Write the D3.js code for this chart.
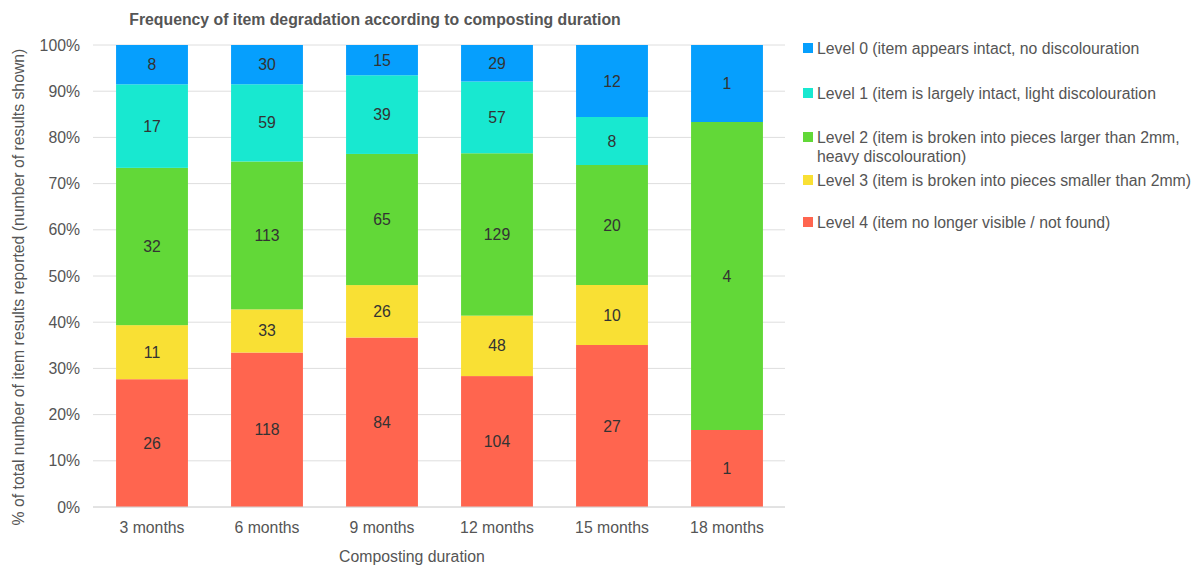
<!DOCTYPE html>
<html>
<head>
<meta charset="utf-8">
<script src="https://cdn.jsdelivr.net/npm/d3@7"></script>
<style>
  body { margin: 0; background: #fff; }
  svg { font-family: "Liberation Sans", Arial, sans-serif; }
</style>
</head>
<body>
<svg id="chart" width="1192" height="567"></svg>
<script>
const categories = ["3 months", "6 months", "9 months", "12 months", "15 months", "18 months"];
const levels = [
  "Level 0 (item appears intact, no discolouration",
  "Level 1 (item is largely intact, light discolouration",
  "Level 2 (item is broken into pieces larger than 2mm,|heavy discolouration)",
  "Level 3 (item is broken into pieces smaller than 2mm)",
  "Level 4 (item no longer visible / not found)"
];
const level0 = [8, 30, 15, 29, 12, 1];
const level1 = [17, 59, 39, 57, 8, 0];
const level2 = [32, 113, 65, 129, 20, 4];
const level3 = [11, 33, 26, 48, 10, 0];
const level4 = [26, 118, 84, 104, 27, 1];
const yTicks = [0, 10, 20, 30, 40, 50, 60, 70, 80, 90, 100];
const colors = ["#069ffd", "#18e8d0", "#62d838", "#f9e034", "#ff654f"];

const series = [level0, level1, level2, level3, level4];
const stackKeys = [4, 3, 2, 1, 0];

const svg = d3.select("#chart");
const margin = { left: 94.5, right: 784.5, top: 45, bottom: 507 };
const FS = 15.8;

const x = d3.scaleBand().domain(categories).range([margin.left, margin.right]).paddingInner(0.375).paddingOuter(0.1875);
const y = d3.scaleLinear().domain([0, 100]).range([margin.bottom, margin.top]);

svg.append("g").selectAll("line").data(yTicks).join("line")
  .attr("x1", 93).attr("x2", 785)
  .attr("y1", d => y(d)).attr("y2", d => y(d))
  .attr("stroke", "#dedede").attr("stroke-width", 1);

svg.append("g").selectAll("text").data(yTicks).join("text")
  .attr("x", 80).attr("y", d => y(d)).attr("dy", "0.35em")
  .attr("text-anchor", "end").attr("font-size", FS).attr("fill", "#555")
  .text(d => d + "%");

const rows = categories.map((c, i) => {
  const total = series.reduce((s, arr) => s + arr[i], 0);
  const o = { cat: c, total };
  series.forEach((arr, k) => { o["L" + k] = arr[i] / total * 100; o["N" + k] = arr[i]; });
  return o;
});
const stack = d3.stack().keys(stackKeys.map(k => "L" + k));
const stacked = stack(rows);

const segs = svg.append("g");
stacked.forEach((layer, li) => {
  const k = stackKeys[li];
  const g = segs.append("g");
  g.selectAll("rect").data(layer).join("rect")
    .attr("x", d => x(d.data.cat))
    .attr("width", x.bandwidth())
    .attr("y", d => y(d[1]))
    .attr("height", d => y(d[0]) - y(d[1]))
    .attr("fill", colors[k]);
  g.selectAll("text").data(layer.filter(d => d.data["N" + k] > 0)).join("text")
    .attr("x", d => x(d.data.cat) + x.bandwidth() / 2)
    .attr("y", d => (y(d[0]) + y(d[1])) / 2)
    .attr("dy", "0.35em")
    .attr("text-anchor", "middle").attr("font-size", FS).attr("fill", "#333")
    .text(d => d.data["N" + k]);
});

svg.append("line").attr("x1", 93).attr("x2", 785).attr("y1", y(0)).attr("y2", y(0))
  .attr("stroke", "#d6d6d6").attr("stroke-width", 1);

svg.append("g").selectAll("text").data(categories).join("text")
  .attr("x", d => x(d) + x.bandwidth() / 2).attr("y", 527).attr("dy", "0.35em")
  .attr("text-anchor", "middle").attr("font-size", FS).attr("fill", "#555")
  .text(d => d);

svg.append("text").attr("x", 412).attr("y", 556).attr("dy", "0.35em")
  .attr("text-anchor", "middle").attr("font-size", FS).attr("fill", "#555")
  .text("Composting duration");
svg.append("text").attr("transform", "translate(18,287) rotate(-90)")
  .attr("dy", "0.35em").attr("text-anchor", "middle").attr("font-size", FS).attr("fill", "#555")
  .text("% of total number of item results reported (number of results shown)");

svg.append("text").attr("x", 375).attr("y", 19).attr("dy", "0.35em")
  .attr("text-anchor", "middle").attr("font-size", 15.8).attr("font-weight", "bold").attr("fill", "#555")
  .text("Frequency of item degradation according to composting duration");

const legendY = [48, 93, 137, 180, 222];
const lg = svg.append("g");
levels.forEach((t, k) => {
  lg.append("rect").attr("x", 803).attr("y", legendY[k] - 5).attr("width", 10).attr("height", 10).attr("fill", colors[k]);
  const lines = t.split("|");
  lines.forEach((ln, j) => {
    lg.append("text").attr("x", 817).attr("y", legendY[k] + j * 19).attr("dy", "0.35em")
      .attr("font-size", FS).attr("fill", "#555").text(ln);
  });
});
</script>
</body>
</html>
